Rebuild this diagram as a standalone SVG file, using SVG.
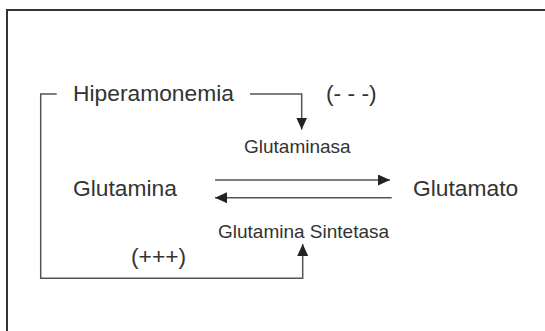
<svg xmlns="http://www.w3.org/2000/svg" width="545" height="331" viewBox="0 0 545 331">
  <style>
    .frame { fill: none; stroke: #333; stroke-width: 2; }
    .wire { fill: none; stroke: #555; stroke-width: 1.5; }
    .big { font-family: "Liberation Sans", Arial, sans-serif; font-size: 22.8px; fill: #333; }
    .small { font-family: "Liberation Sans", Arial, sans-serif; font-size: 19px; fill: #333; }
  </style>
  <defs>
    <marker id="head" markerUnits="userSpaceOnUse" markerWidth="12" markerHeight="11" refX="12" refY="5.5" orient="auto">
      <path d="M0,0 L12,5.5 L0,11 z" fill="#222"/>
    </marker>
  </defs>

  <rect width="545" height="331" fill="#fff"/>
  <!-- outer frame (open to the right and bottom) -->
  <path class="frame" d="M7,332 V10 H546"/>

  <g id="connectors">
    <!-- Hiperamonemia inhibits Glutaminasa -->
    <path class="wire" d="M250,94 H301.7 V129.5" marker-end="url(#head)"/>
    <!-- Hiperamonemia activates Glutamina Sintetasa -->
    <path class="wire" d="M56.7,94 H40.7 V278.3 H302.7 V244" marker-end="url(#head)"/>
    <!-- Glutamina -> Glutamato -->
    <path class="wire" d="M215,180 H390" marker-end="url(#head)"/>
    <!-- Glutamato -> Glutamina -->
    <path class="wire" d="M391.7,197.7 H215" marker-end="url(#head)"/>
  </g>

  <g id="hiperamonemia"><text class="big" x="73" y="101">Hiperamonemia</text></g>
  <g id="inhibition"><text class="big" x="326" y="101">(- - -)</text></g>
  <g id="glutaminasa"><text class="small" x="244" y="153">Glutaminasa</text></g>
  <g id="glutamina"><text class="big" x="73" y="196">Glutamina</text></g>
  <g id="glutamato"><text class="big" x="413" y="196">Glutamato</text></g>
  <g id="sintetasa"><text class="small" x="218" y="238">Glutamina Sintetasa</text></g>
  <g id="activation"><text class="big" x="131" y="264">(+++)</text></g>
</svg>
